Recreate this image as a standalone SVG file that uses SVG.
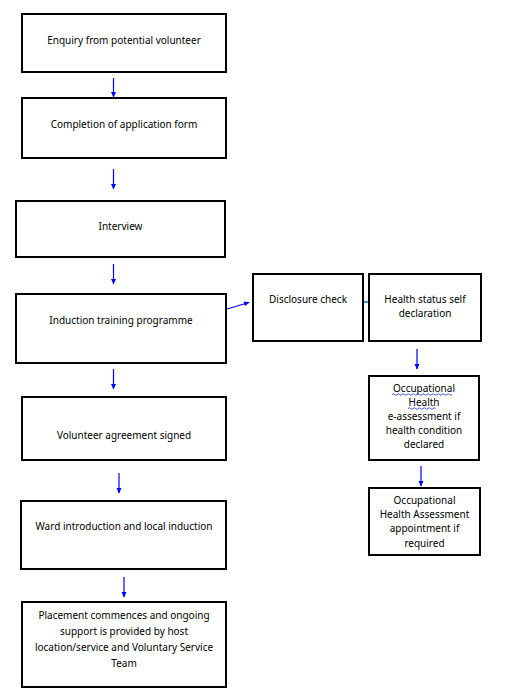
<svg xmlns="http://www.w3.org/2000/svg" width="510" height="689" viewBox="0 0 510 689">
<defs>
<marker id="ah" markerWidth="6" markerHeight="6" refX="5" refY="3" orient="auto" markerUnits="userSpaceOnUse">
<path d="M0,0.5 L5.5,3 L0,5.5 Z" fill="#0000ff"/>
</marker>
<style>
.box{fill:#fff;stroke:#000;stroke-width:2}
.t{font-family:"Noto Sans","Open Sans","DejaVu Sans",sans-serif;font-size:10px;fill:#000;text-anchor:middle}
.c{stroke:#0000ff;stroke-width:1.2;fill:none;marker-end:url(#ah)}
.sq{stroke:#2b3fe0;stroke-width:0.9;fill:none}
</style>
</defs>
<rect width="510" height="689" fill="#fff"/>
<g id="connectors">
<line class="c" x1="113.5" y1="78" x2="113.5" y2="97"/>
<line class="c" x1="113.5" y1="169" x2="113.5" y2="189"/>
<line class="c" x1="113.5" y1="264" x2="113.5" y2="284"/>
<line class="c" x1="113.5" y1="369" x2="113.5" y2="389"/>
<line class="c" x1="119" y1="473" x2="119" y2="493"/>
<line class="c" x1="124" y1="577" x2="124" y2="597"/>
<line class="c" x1="227" y1="309" x2="249" y2="302.5"/>
<line x1="363" y1="302" x2="369" y2="302" stroke="#0070c0" stroke-width="1.5"/>
<line class="c" x1="417" y1="349" x2="417" y2="369"/>
<line class="c" x1="421" y1="466" x2="421" y2="486"/>
</g>
<g id="n1"><rect class="box" x="22" y="14" width="204" height="58"/><text class="t" x="124" y="44">Enquiry from potential volunteer</text></g>
<g id="n2"><rect class="box" x="22" y="98" width="204" height="60"/><text class="t" x="124" y="128">Completion of application form</text></g>
<g id="n3"><rect class="box" x="16" y="201" width="209" height="56"/><text class="t" x="120.5" y="230">Interview</text></g>
<g id="n4"><rect class="box" x="16" y="294" width="210" height="69"/><text class="t" x="121" y="324">Induction training programme</text></g>
<g id="n5"><rect class="box" x="22" y="397" width="204" height="63"/><text class="t" x="124" y="439">Volunteer agreement signed</text></g>
<g id="n6"><rect class="box" x="21" y="501" width="205" height="68"/><text class="t" x="124" y="530">Ward introduction and local induction</text></g>
<g id="n7"><rect class="box" x="22" y="602" width="204" height="85"/>
<text class="t" x="124" y="619">Placement commences and ongoing</text>
<text class="t" x="124" y="635">support is provided by host</text>
<text class="t" x="124" y="651">location/service and Voluntary Service</text>
<text class="t" x="124" y="667">Team</text></g>
<g id="n8"><rect class="box" x="253" y="274" width="110" height="67"/><text class="t" x="308" y="303">Disclosure check</text></g>
<g id="n9"><rect class="box" x="369" y="274" width="112" height="67"/>
<text class="t" x="425" y="303">Health status self</text>
<text class="t" x="425" y="317">declaration</text></g>
<g id="n10"><rect class="box" x="369" y="376" width="110" height="84"/>
<text class="t" x="424" y="392">Occupational</text>
<text class="t" x="424" y="406">Health</text>
<text class="t" x="424" y="420">e-assessment if</text>
<text class="t" x="424" y="434">health condition</text>
<text class="t" x="424" y="448">declared</text>
<path class="sq" d="M392,394.5 q1.25,-1.5 2.5,0 t2.5,0 t2.5,0 t2.5,0 t2.5,0 t2.5,0 t2.5,0 t2.5,0 t2.5,0 t2.5,0 t2.5,0 t2.5,0 t2.5,0 t2.5,0 t2.5,0 t2.5,0 t2.5,0 t2.5,0 t2.5,0 t2.5,0 t2.5,0 t2.5,0 t2.5,0 t2.5,0"/>
<path class="sq" d="M408,408.5 q1.25,-1.5 2.5,0 t2.5,0 t2.5,0 t2.5,0 t2.5,0 t2.5,0 t2.5,0 t2.5,0 t2.5,0 t2.5,0 t2.5,0"/>
</g>
<g id="n11"><rect class="box" x="369" y="488" width="111" height="67"/>
<text class="t" x="424.5" y="504">Occupational</text>
<text class="t" x="424.5" y="518">Health Assessment</text>
<text class="t" x="424.5" y="532">appointment if</text>
<text class="t" x="424.5" y="547">required</text></g>
</svg>
